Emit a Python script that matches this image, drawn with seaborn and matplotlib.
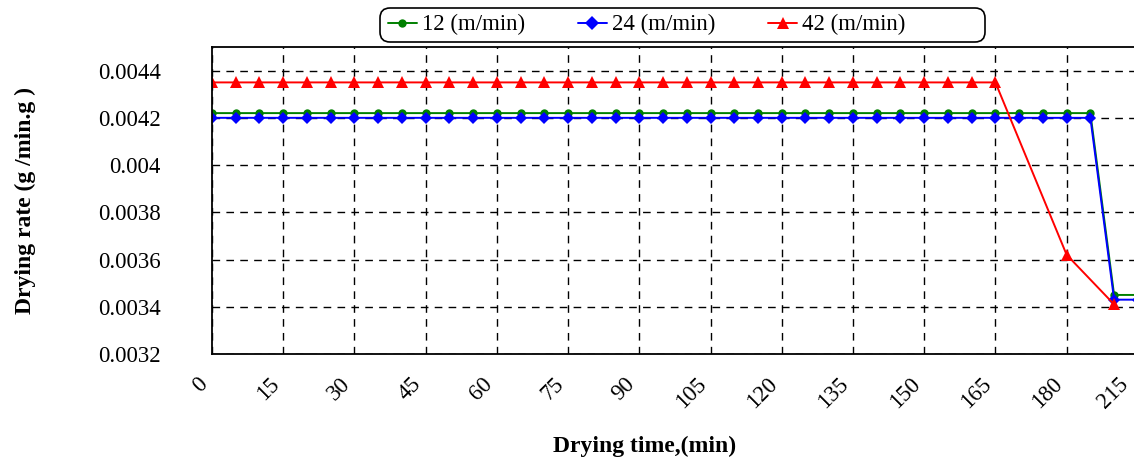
import pandas as pd
import matplotlib.pyplot as plt
import matplotlib.transforms as mtransforms
import seaborn as sns
from matplotlib.ticker import MultipleLocator, FuncFormatter
from matplotlib.patches import FancyBboxPatch

# drying time categories (evenly spaced on the chart)
time_min = [0, 5, 10, 15, 20, 25, 30, 35, 40, 45, 50, 55, 60, 65, 70, 75, 80, 85,
            90, 95, 100, 105, 110, 115, 120, 125, 130, 135, 140, 145, 150, 155, 160,
            165, 170, 175, 180, 185, 190, 215]

rate_12 = [0.00422, 0.00422, 0.00422, 0.00422, 0.00422, 0.00422, 0.00422, 0.00422,
           0.00422, 0.00422, 0.00422, 0.00422, 0.00422, 0.00422, 0.00422, 0.00422,
           0.00422, 0.00422, 0.00422, 0.00422, 0.00422, 0.00422, 0.00422, 0.00422,
           0.00422, 0.00422, 0.00422, 0.00422, 0.00422, 0.00422, 0.00422, 0.00422,
           0.00422, 0.00422, 0.00422, 0.00422, 0.00422, 0.00422, 0.00345, 0.00345]
rate_24 = [0.00420, 0.00420, 0.00420, 0.00420, 0.00420, 0.00420, 0.00420, 0.00420,
           0.00420, 0.00420, 0.00420, 0.00420, 0.00420, 0.00420, 0.00420, 0.00420,
           0.00420, 0.00420, 0.00420, 0.00420, 0.00420, 0.00420, 0.00420, 0.00420,
           0.00420, 0.00420, 0.00420, 0.00420, 0.00420, 0.00420, 0.00420, 0.00420,
           0.00420, 0.00420, 0.00420, 0.00420, 0.00420, 0.00420, 0.00343, 0.00343]
rate_42 = [0.00435, 0.00435, 0.00435, 0.00435, 0.00435, 0.00435, 0.00435, 0.00435,
           0.00435, 0.00435, 0.00435, 0.00435, 0.00435, 0.00435, 0.00435, 0.00435,
           0.00435, 0.00435, 0.00435, 0.00435, 0.00435, 0.00435, 0.00435, 0.00435,
           0.00435, 0.00435, 0.00435, 0.00435, 0.00435, 0.00435, 0.00435, 0.00435,
           0.00435, 0.00435, None, None, 0.00362, None, 0.00341, None]

tick_labels = ["0", "15", "30", "45", "60", "75", "90", "105", "120", "135",
               "150", "165", "180", "215"]

series_names = ["12 (m/min)", "24 (m/min)", "42 (m/min)"]

rows = []
for name, values in zip(series_names, [rate_12, rate_24, rate_42]):
    for pos, v in enumerate(values):
        if v is not None:
            rows.append({"pos": pos, "rate": v, "speed": name})
df = pd.DataFrame(rows)

sns.set_style("white")
plt.rcParams["font.family"] = ["Liberation Serif", "DejaVu Serif"]
plt.rcParams["text.color"] = "black"
plt.rcParams["axes.labelcolor"] = "black"
plt.rcParams["xtick.color"] = "black"
plt.rcParams["ytick.color"] = "black"

fig = plt.figure(figsize=(11.34, 4.62), dpi=100)
ax = fig.add_axes([0.1869, 0.2338, 0.8165, 0.6645])

palette = {"12 (m/min)": "green", "24 (m/min)": "blue", "42 (m/min)": "red"}
markers = {"12 (m/min)": "o", "24 (m/min)": "D", "42 (m/min)": "^"}

sns.lineplot(data=df, x="pos", y="rate", hue="speed", style="speed",
             palette=palette, markers=markers, dashes=False, linewidth=1.4,
             markersize=7, markeredgewidth=0, ax=ax)

# per-series marker sizes
for line, ms in zip(ax.lines[:3], [6, 6.3, 8]):
    line.set_markersize(ms)

ax.set_xlim(0, 39)
ax.set_ylim(0.0032, 0.0045)

ax.set_xticks(range(0, 40, 3))
ax.xaxis.set_minor_locator(MultipleLocator(1))
ax.set_xticklabels(tick_labels, rotation=45, ha="right")
ax.yaxis.set_major_locator(MultipleLocator(0.0002))
ax.yaxis.set_minor_locator(MultipleLocator(0.00005))
ax.yaxis.set_major_formatter(FuncFormatter(lambda v, p: f"{v:g}"))

ax.tick_params(axis="x", which="major", direction="inout", length=12, width=1,
               labelsize=16.5, pad=8)
ax.tick_params(axis="x", which="minor", direction="out", length=3.6, width=1)
ax.tick_params(axis="y", which="major", direction="out", length=10.8, width=1,
               labelsize=16.5, pad=26)
ax.tick_params(axis="y", which="minor", direction="out", length=5.8, width=1)

# keep the last label inside the picture
last = ax.get_xticklabels()[-1]
last.set_transform(last.get_transform()
                   + mtransforms.ScaledTranslation(-0.05, 0, fig.dpi_scale_trans))

ax.grid(True, which="major", color="black", linestyle=(0, (5.5, 4.5)), linewidth=1)
for side in ["top", "right", "left", "bottom"]:
    ax.spines[side].set_color("black")
    ax.spines[side].set_linewidth(1.3)

ax.set_xlabel("Drying time,(min)", fontsize=17, fontweight="bold")
ax.set_ylabel("Drying rate (g /min.g )", fontsize=17, fontweight="bold")
ax.xaxis.set_label_coords(0.4675, -0.267)
ax.yaxis.set_label_coords(-0.19, 0.5)

handles, labels = ax.get_legend_handles_labels()
for h, ms in zip(handles, [6, 7, 9]):
    h.set_markersize(ms)
ax.legend(handles, labels, loc="center left", bbox_to_anchor=(0.332, 0.946),
          bbox_transform=fig.transFigure, ncol=3, fontsize=16.5, frameon=False,
          handlelength=1.26, handletextpad=0.23, columnspacing=2.3, borderpad=0)

# rounded legend box (wider than its entries, as in the original)
box = FancyBboxPatch((3.80, 4.20), 6.05, 0.34,
                     boxstyle="round,pad=0,rounding_size=0.1",
                     transform=fig.dpi_scale_trans, facecolor="none",
                     edgecolor="black", linewidth=1.2)
fig.patches.append(box)

fig.savefig("out.png", dpi=100)
